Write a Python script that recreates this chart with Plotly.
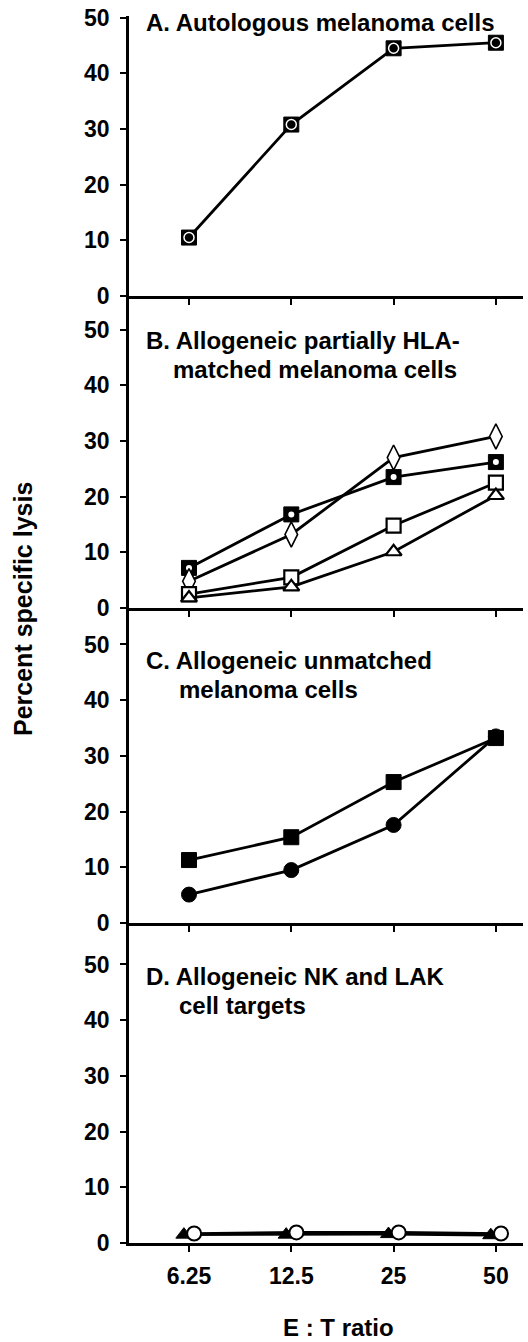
import plotly.graph_objects as go

# ---------------- data ----------------
ratios = ["6.25", "12.5", "25", "50"]
y_ticks = [0, 10, 20, 30, 40, 50]

a_autologous = [10.5, 30.8, 44.5, 45.5]

b_square_dot = [7.2, 16.8, 23.5, 26.2]
b_diamond = [4.8, 13.2, 27.0, 30.8]
b_square_open = [2.5, 5.5, 14.8, 22.5]
b_triangle_open = [1.8, 3.8, 10.1, 20.2]

c_square = [11.3, 15.4, 25.3, 33.2]
c_circle = [5.1, 9.5, 17.6, 33.5]

d_triangle = [1.5, 1.5, 1.6, 1.4]
d_circle = [1.7, 1.9, 1.9, 1.7]

titles = {
    "A": ["A. Autologous melanoma cells"],
    "B": ["B. Allogeneic partially HLA-", "matched melanoma cells"],
    "C": ["C. Allogeneic unmatched", "melanoma cells"],
    "D": ["D. Allogeneic NK and LAK", "cell targets"],
}

# ---------------- layout geometry (page pixels) ----------------
W, H = 528, 1342
FONT = "Liberation Sans, Arial, sans-serif"
x_left_px, x_right_px = 129, 523
tick0_px, tick_step_px = 189, 102.3
panels = [(16, 296), (296, 608), (608, 923), (923, 1243)]
px_per_unit = 5.6


def px(p):
    return p / W


def py(p):
    return 1 - p / H


x_range = [(x_left_px - tick0_px) / tick_step_px,
           (x_right_px - tick0_px) / tick_step_px]

fig = go.Figure()
black = "black"
LW = 2.8


def add_line(xa, ya, y, symbol, size, fill, lw_m=2, group="c"):
    fig.add_trace(go.Scatter(
        x=ratios, y=y, xaxis=xa, yaxis=ya, mode="lines+markers",
        line=dict(color=black, width=LW),
        marker=dict(symbol=symbol, size=size, color=fill,
                    line=dict(color=black, width=lw_m)),
        offsetgroup=group,
        cliponaxis=False, showlegend=False, hoverinfo="x+y"))


def add_overlay(xa, ya, y, symbol, size, color, lw_m=0):
    fig.add_trace(go.Scatter(
        x=ratios, y=y, xaxis=xa, yaxis=ya, mode="markers",
        marker=dict(symbol=symbol, size=size, color=color,
                    line=dict(color=color, width=lw_m)),
        offsetgroup="c",
        cliponaxis=False, showlegend=False, hoverinfo="skip"))


# Panel A
add_line("x", "y", a_autologous, "square", 15, black, 1)
add_overlay("x", "y", a_autologous, "circle-open", 10, "white", 1.5)

# Panel B
add_line("x2", "y2", b_square_dot, "square", 15, black, 1)
add_overlay("x2", "y2", b_square_dot, "circle", 6, "white", 0)
add_line("x2", "y2", b_diamond, "diamond-tall", 18, "white", 1.6)
add_line("x2", "y2", b_square_open, "square", 14, "white", 2.2)
add_line("x2", "y2", b_triangle_open, "triangle-up", 14, "white", 2.2)

# Panel C
add_line("x3", "y3", c_square, "square", 15, black, 1)
add_line("x3", "y3", c_circle, "circle", 15, black, 1)

# Panel D (markers slightly staggered as in the original)
add_line("x4", "y4", d_triangle, "triangle-up", 14, black, 1, group="t")
add_line("x4", "y4", d_circle, "circle", 14, "white", 2, group="o")

tickfont = dict(family=FONT, size=23, color=black, weight="bold")

for i, (top, bot) in enumerate(panels):
    n = "" if i == 0 else str(i + 1)
    ymax = (bot - top) / px_per_unit + 0.3
    fig.layout["xaxis" + n] = dict(
        type="category", categoryorder="array", categoryarray=ratios,
        domain=[px(x_left_px), px(x_right_px)], range=x_range,
        anchor="y" + n, showline=True, linecolor=black, linewidth=LW,
        ticks="outside", ticklen=6, tickwidth=2.2, tickcolor=black,
        showgrid=False, zeroline=False, showticklabels=(i == 3),
        tickfont=tickfont, ticklabelstandoff=4, automargin=False,
        fixedrange=True)
    fig.layout["yaxis" + n] = dict(
        domain=[py(bot), py(top)], range=[0, ymax], anchor="x" + n,
        tickvals=y_ticks, showline=True, linecolor=black, linewidth=LW,
        ticks="outside", ticklen=6, tickwidth=2.2, tickcolor=black,
        showgrid=False, zeroline=False, tickfont=tickfont,
        ticklabelstandoff=6, automargin=False, fixedrange=True)

annotations = []
title_pos = {
    "A": [(144, 23)],
    "B": [(144, 341), (171, 370)],
    "C": [(144, 660), (177, 689)],
    "D": [(144, 977), (177, 1005)],
}
for key, lines in titles.items():
    for text, (xp, yp) in zip(lines, title_pos[key]):
        annotations.append(dict(
            text=text, x=px(xp), y=py(yp), xref="paper", yref="paper",
            xanchor="left", yanchor="middle", showarrow=False,
            font=dict(family=FONT, size=24, color=black, weight="bold")))

annotations.append(dict(
    text="Percent specific lysis", x=px(23), y=py(609), xref="paper",
    yref="paper", xanchor="center", yanchor="middle", showarrow=False,
    textangle=-90, font=dict(family=FONT, size=25, color=black, weight="bold")))
annotations.append(dict(
    text="E : T ratio", x=px(338), y=py(1327), xref="paper", yref="paper",
    xanchor="center", yanchor="middle", showarrow=False,
    font=dict(family=FONT, size=24, color=black, weight="bold")))

fig.update_layout(
    width=W, height=H, margin=dict(l=0, r=0, t=0, b=0, autoexpand=False),
    paper_bgcolor="white", plot_bgcolor="white",
    scattermode="group", scattergap=0.8,
    annotations=annotations, showlegend=False)

fig.write_html(
    "out.html",
    config={"displayModeBar": False},
    post_script=("document.documentElement.style.margin='0';"
                 "document.body.style.margin='0';"
                 "document.documentElement.style.overflow='hidden';"
                 "document.body.style.overflow='hidden';"))
